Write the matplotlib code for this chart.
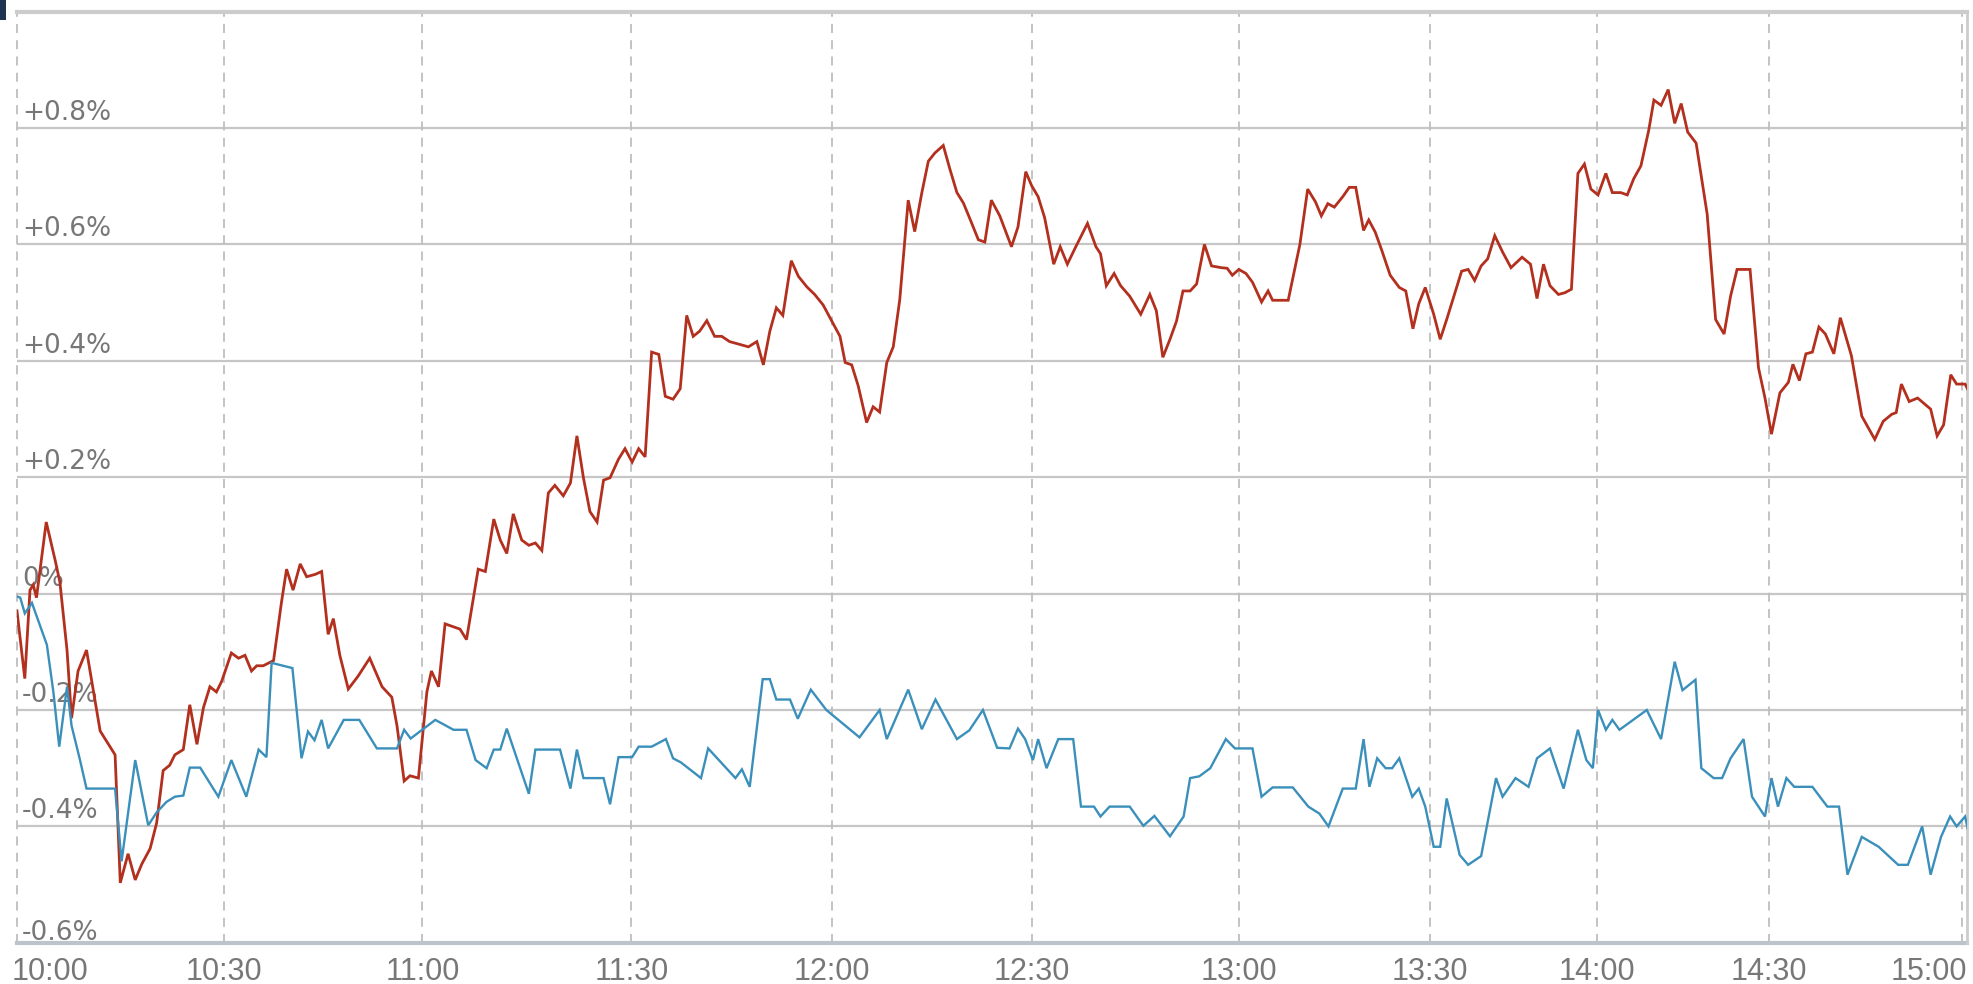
import matplotlib
matplotlib.use("Agg")
import matplotlib.pyplot as plt
from matplotlib.transforms import ScaledTranslation, blended_transform_factory
from matplotlib.patches import Rectangle

# ---------------- data (x = position in trading-slot index, y = % change) ----------------
tick_labels = ["10:00", "10:30", "11:00", "11:30", "12:00", "12:30",
               "13:00", "13:30", "14:00", "14:30", "15:00"]
tick_slots = [0.0, 31.8, 62.4, 94.6, 125.4, 156.3, 188.1, 217.5, 243.2, 269.7, 299.4]

y_levels = [0.8, 0.6, 0.4, 0.2, 0.0, -0.2, -0.4, -0.6]
y_labels = ["+0.8%", "+0.6%", "+0.4%", "+0.2%", "0%", "-0.2%", "-0.4%", "-0.6%"]

red_points = [
    (0.0, -0.03), (1.2, -0.146), (2.0, 0.006), (2.5, 0.015), (3.0, -0.007), (4.5, 0.123),
    (5.9, 0.056), (6.6, 0.020), (7.7, -0.097), (8.4, -0.214), (9.4, -0.133), (10.7, -0.097),
    (12.8, -0.236), (15.1, -0.277), (15.9, -0.497), (17.1, -0.447), (18.2, -0.492), (19.2, -0.465),
    (20.5, -0.438), (21.5, -0.394), (22.5, -0.304), (23.5, -0.295), (24.3, -0.277), (25.6, -0.268),
    (26.6, -0.191), (27.7, -0.259), (28.7, -0.196), (29.7, -0.160), (30.7, -0.169), (31.5, -0.151),
    (33.0, -0.102), (34.1, -0.111), (35.1, -0.106), (36.1, -0.133), (36.9, -0.124), (37.9, -0.124),
    (39.5, -0.115), (40.7, -0.016), (41.5, 0.042), (42.5, 0.006), (43.6, 0.051), (44.6, 0.029),
    (45.9, 0.033), (46.9, 0.038), (47.9, -0.070), (48.7, -0.043), (49.7, -0.106), (51.0, -0.164),
    (52.5, -0.142), (54.3, -0.111), (56.2, -0.160), (57.7, -0.178), (58.5, -0.227), (59.6, -0.322),
    (60.5, -0.313), (61.8, -0.317), (63.1, -0.169), (63.8, -0.133), (64.9, -0.160), (65.9, -0.052),
    (67.2, -0.057), (68.2, -0.061), (69.2, -0.079), (71.0, 0.042), (72.1, 0.038), (73.4, 0.128),
    (74.4, 0.092), (75.4, 0.069), (76.4, 0.137), (77.7, 0.092), (78.8, 0.083), (79.8, 0.087),
    (80.8, 0.074), (81.8, 0.173), (82.8, 0.186), (84.1, 0.168), (85.2, 0.190), (86.2, 0.271),
    (87.2, 0.199), (88.2, 0.141), (89.3, 0.123), (90.3, 0.195), (91.3, 0.199), (92.6, 0.231),
    (93.6, 0.249), (94.7, 0.226), (95.7, 0.249), (96.7, 0.235), (97.7, 0.415), (98.8, 0.411),
    (99.8, 0.339), (101.0, 0.334), (102.1, 0.352), (103.1, 0.478), (104.1, 0.442), (105.1, 0.451),
    (106.2, 0.469), (107.4, 0.442), (108.5, 0.442), (109.7, 0.433), (111.0, 0.429), (112.6, 0.424),
    (113.9, 0.433), (114.9, 0.393), (115.9, 0.451), (116.9, 0.491), (117.9, 0.478), (119.2, 0.572),
    (120.3, 0.545), (121.6, 0.527), (122.8, 0.514), (124.1, 0.496), (125.4, 0.469), (126.7, 0.442),
    (127.5, 0.397), (128.5, 0.393), (129.5, 0.357), (130.8, 0.294), (131.8, 0.321), (132.8, 0.312),
    (133.9, 0.397), (134.9, 0.424), (135.9, 0.505), (137.2, 0.676), (138.2, 0.622), (139.3, 0.689),
    (140.3, 0.743), (141.3, 0.757), (142.6, 0.770), (143.6, 0.730), (144.7, 0.689), (145.7, 0.671),
    (146.7, 0.644), (148.0, 0.608), (149.0, 0.604), (150.0, 0.676), (151.3, 0.649), (153.1, 0.596),
    (154.1, 0.630), (155.3, 0.725), (156.2, 0.701), (157.2, 0.682), (158.2, 0.646), (159.6, 0.566),
    (160.6, 0.596), (161.7, 0.566), (163.0, 0.596), (164.8, 0.636), (166.1, 0.596), (166.8, 0.584),
    (167.7, 0.529), (168.9, 0.550), (169.9, 0.529), (171.3, 0.511), (173.0, 0.480), (174.4, 0.514),
    (175.4, 0.486), (176.4, 0.406), (177.5, 0.437), (178.5, 0.468), (179.5, 0.520), (180.6, 0.520),
    (181.6, 0.532), (182.8, 0.600), (183.9, 0.563), (185.4, 0.560), (186.3, 0.559), (187.1, 0.547),
    (188.1, 0.557), (189.2, 0.550), (190.2, 0.535), (191.6, 0.501), (192.6, 0.520), (193.3, 0.504),
    (195.7, 0.504), (197.5, 0.600), (198.7, 0.695), (199.9, 0.673), (200.8, 0.649), (201.8, 0.670),
    (202.8, 0.664), (204.1, 0.682), (205.1, 0.698), (206.1, 0.698), (207.3, 0.624), (208.1, 0.642),
    (209.1, 0.621), (210.1, 0.590), (211.4, 0.547), (212.8, 0.526), (213.8, 0.520), (214.9, 0.455),
    (215.8, 0.498), (216.8, 0.526), (218.1, 0.480), (219.1, 0.437), (220.1, 0.471), (221.1, 0.507),
    (222.4, 0.554), (223.4, 0.557), (224.4, 0.538), (225.4, 0.563), (226.4, 0.575), (227.5, 0.615),
    (228.7, 0.587), (230.0, 0.560), (231.7, 0.578), (233.0, 0.566), (234.0, 0.507), (235.0, 0.566),
    (236.0, 0.529), (237.3, 0.514), (238.3, 0.517), (239.3, 0.523), (240.3, 0.722), (241.3, 0.738),
    (242.3, 0.695), (243.4, 0.685), (244.6, 0.722), (245.6, 0.689), (246.9, 0.689), (247.9, 0.685),
    (248.9, 0.713), (250.0, 0.735), (251.2, 0.796), (252.0, 0.848), (253.1, 0.839), (254.2, 0.866),
    (255.2, 0.808), (256.2, 0.842), (257.2, 0.793), (258.5, 0.774), (260.2, 0.652), (261.5, 0.471),
    (262.8, 0.446), (263.8, 0.511), (264.8, 0.557), (266.8, 0.557), (268.1, 0.388), (269.1, 0.336),
    (270.1, 0.274), (271.4, 0.345), (272.7, 0.363), (273.4, 0.394), (274.4, 0.366), (275.4, 0.412),
    (276.4, 0.415), (277.4, 0.458), (278.4, 0.446), (279.7, 0.412), (280.7, 0.474), (282.4, 0.409),
    (284.0, 0.305), (286.0, 0.265), (287.3, 0.296), (288.6, 0.308), (289.3, 0.311), (290.1, 0.360),
    (291.3, 0.330), (292.6, 0.336), (294.6, 0.317), (295.6, 0.271), (296.6, 0.290), (297.7, 0.376),
    (298.6, 0.360), (299.9, 0.360), (300.6, 0.345),
]

blue_points = [
    (0.0, -0.005), (0.5, -0.007), (1.2, -0.034), (2.3, -0.016), (4.6, -0.088), (5.6, -0.169),
    (6.5, -0.263), (7.7, -0.160), (8.4, -0.227), (9.7, -0.286), (10.7, -0.335), (15.1, -0.335),
    (16.1, -0.46), (18.2, -0.286), (20.2, -0.398), (21.5, -0.376), (23.0, -0.358), (24.3, -0.349),
    (25.6, -0.347), (26.6, -0.299), (28.2, -0.299), (31.0, -0.349), (33.0, -0.286), (35.3, -0.349),
    (37.2, -0.268), (38.4, -0.281), (39.2, -0.119), (42.4, -0.128), (43.8, -0.283), (44.8, -0.237),
    (45.8, -0.252), (46.9, -0.217), (47.9, -0.266), (50.3, -0.217), (52.7, -0.217), (55.4, -0.266),
    (58.5, -0.266), (59.6, -0.234), (60.6, -0.249), (64.4, -0.217), (67.2, -0.234), (69.2, -0.234),
    (70.6, -0.286), (72.3, -0.300), (73.4, -0.268), (74.4, -0.268), (75.4, -0.232), (78.8, -0.344),
    (79.8, -0.268), (83.6, -0.268), (85.2, -0.335), (86.2, -0.268), (87.2, -0.317), (90.3, -0.317),
    (91.3, -0.362), (92.6, -0.281), (94.7, -0.281), (95.7, -0.263), (97.7, -0.263), (99.9, -0.250),
    (101.0, -0.283), (102.2, -0.290), (105.3, -0.317), (106.4, -0.266), (110.6, -0.317), (111.6, -0.302),
    (112.8, -0.332), (114.8, -0.147), (115.9, -0.147), (116.9, -0.182), (119.0, -0.182), (120.2, -0.215),
    (122.2, -0.165), (124.6, -0.200), (129.7, -0.247), (132.8, -0.200), (133.9, -0.250), (137.2, -0.165),
    (139.3, -0.233), (141.4, -0.182), (144.7, -0.250), (146.6, -0.235), (148.7, -0.200), (150.9, -0.265),
    (152.8, -0.266), (154.1, -0.232), (155.2, -0.250), (156.4, -0.286), (157.2, -0.250), (158.5, -0.300),
    (160.3, -0.250), (162.6, -0.250), (163.8, -0.366), (165.8, -0.366), (166.8, -0.383), (168.2, -0.366),
    (171.3, -0.366), (173.4, -0.399), (175.1, -0.382), (177.5, -0.417), (179.6, -0.383), (180.6, -0.317),
    (182.0, -0.314), (183.7, -0.300), (186.1, -0.250), (187.5, -0.266), (190.2, -0.266), (191.6, -0.349),
    (193.3, -0.333), (196.4, -0.333), (198.8, -0.366), (200.5, -0.378), (201.9, -0.400), (204.1, -0.335),
    (206.1, -0.335), (207.3, -0.250), (208.2, -0.332), (209.4, -0.283), (210.7, -0.300), (211.7, -0.300),
    (212.8, -0.283), (214.8, -0.349), (215.8, -0.335), (216.8, -0.366), (218.1, -0.435), (219.1, -0.435),
    (220.1, -0.352), (222.1, -0.449), (223.4, -0.466), (225.4, -0.451), (227.7, -0.317), (228.7, -0.349),
    (230.7, -0.317), (232.7, -0.332), (234.0, -0.283), (236.0, -0.266), (238.1, -0.335), (240.3, -0.234),
    (241.6, -0.286), (242.6, -0.300), (243.4, -0.200), (244.6, -0.234), (245.6, -0.217), (246.7, -0.234),
    (250.9, -0.200), (253.1, -0.250), (255.2, -0.117), (256.4, -0.166), (258.4, -0.148), (259.3, -0.300),
    (261.2, -0.317), (262.5, -0.317), (263.8, -0.283), (265.8, -0.250), (267.1, -0.349), (269.1, -0.383),
    (270.1, -0.317), (271.1, -0.366), (272.4, -0.317), (273.6, -0.332), (276.4, -0.332), (278.7, -0.366),
    (280.5, -0.366), (281.8, -0.483), (284.0, -0.418), (286.6, -0.435), (289.6, -0.466), (291.1, -0.466),
    (293.3, -0.400), (294.6, -0.483), (296.2, -0.418), (297.6, -0.383), (298.6, -0.400), (299.9, -0.383),
    (300.6, -0.418),
]

red_x = [p[0] for p in red_points]
red_v = [p[1] for p in red_points]
blue_x = [p[0] for p in blue_points]
blue_v = [p[1] for p in blue_points]

X_MAX = 300.2
RED = "#b3301f"
BLUE = "#3a8fbb"
GRID = "#c6c6c6"
LABEL = "#777777"

# ---------------- figure ----------------
W, H, DPI = 1974, 984, 100
fig = plt.figure(figsize=(W / DPI, H / DPI), dpi=DPI, facecolor="white")
ax = fig.add_axes([17 / W, 41.2 / H, 1950 / W, 931.2 / H])
ax.set_facecolor("white")
ax.set_xlim(0, X_MAX)
ax.set_ylim(-0.6, 1.0)
for s in ax.spines.values():
    s.set_visible(False)
ax.set_xticks([])
ax.set_yticks([])

# horizontal grid
for v in y_levels[:-1]:
    ax.axhline(v, color=GRID, lw=1.6, zorder=1)
# vertical dashed grid
for t in tick_slots:
    ax.axvline(t, color="#bebebe", lw=1.3, ls=(0, (5, 4)), zorder=1, clip_on=False)
# frame: bottom axis, top and right borders
ax.axhline(-0.6, color="#bcc3ca", lw=3.0, zorder=3, clip_on=False)
ax.axhline(1.0, color="#cccccc", lw=3.0, zorder=3, clip_on=False)
ax.axvline(X_MAX, color="#cccccc", lw=2.0, zorder=3, clip_on=False)

# y labels (inside plot, above gridlines)
ytrans = blended_transform_factory(ax.transAxes, ax.transData)
for v, lab in zip(y_levels, y_labels):
    dy = 3 if v == -0.6 else 8
    ax.text(0, v, lab, transform=ytrans + ScaledTranslation(5 / DPI, dy / DPI, fig.dpi_scale_trans),
            ha="left", va="baseline", fontsize=19, color=LABEL, family="DejaVu Sans", zorder=2)

# x labels
xtrans = blended_transform_factory(ax.transData, ax.transAxes)
for i, (t, lab) in enumerate(zip(tick_slots, tick_labels)):
    if i == 0:
        ha, dx = "left", -5
    elif i == len(tick_slots) - 1:
        ha, dx = "right", 5
    else:
        ha, dx = "center", 0
    ax.text(t, 0, lab, transform=xtrans + ScaledTranslation(dx / DPI, -37 / DPI, fig.dpi_scale_trans),
            ha=ha, va="baseline", fontsize=22, color=LABEL, family="Liberation Sans",
            clip_on=False)

# series
ax.plot(red_x, red_v, color=RED, lw=2.0, zorder=5, solid_joinstyle="miter")
ax.plot(blue_x, blue_v, color=BLUE, lw=1.7, zorder=6, solid_joinstyle="miter")

# small dark block in the top-left corner
fig.patches.append(Rectangle((0, 1 - 20 / H), 6 / W, 20 / H, transform=fig.transFigure,
                             facecolor="#1e3450", edgecolor="none"))

fig.savefig("out.png", dpi=DPI, facecolor="white")
